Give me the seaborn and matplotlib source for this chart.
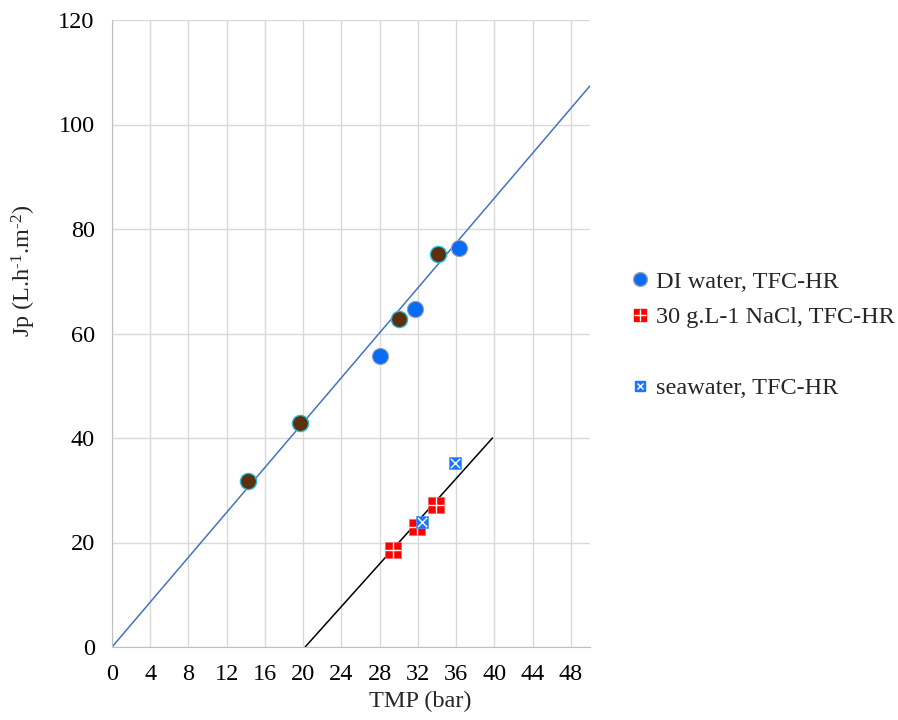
import numpy as np
import pandas as pd
import seaborn as sns
import matplotlib.pyplot as plt
from matplotlib.lines import Line2D
from matplotlib.ticker import MultipleLocator

# Data
di_tmp = [28.05, 31.74, 36.28]
di_jp = [55.7, 64.6, 76.3]
di_fit_tmp = [14.2, 19.65, 29.97, 34.14]
di_fit_jp = [31.8, 42.9, 62.8, 75.2]
nacl_tmp = [29.4, 31.9, 33.85]
nacl_jp = [18.6, 23.0, 27.1]
sea_tmp = [32.4, 35.9]
sea_jp = [23.9, 35.3]
line_di_tmp = [0, 50]
line_di_jp = [0, 107.4]
line_salt_tmp = [20.2, 39.8]
line_salt_jp = [0, 40]

sns.set_style("white")
plt.rcParams['font.family'] = ['Liberation Serif', 'DejaVu Serif']
plt.rcParams['mathtext.fontset'] = 'custom'
plt.rcParams['mathtext.rm'] = 'Liberation Serif'
plt.rcParams['mathtext.it'] = 'Liberation Serif:italic'

fs = 17.5
fig = plt.figure(figsize=(8.98, 7.2), dpi=100)
ax = fig.add_axes([112/898, 1-647/720, 478/898, 627/720])

sns.lineplot(x=line_di_tmp, y=line_di_jp, ax=ax, color='#4472c4', lw=1.1, zorder=2)
sns.lineplot(x=line_salt_tmp, y=line_salt_jp, ax=ax, color='black', lw=1.1, zorder=2)

sns.scatterplot(x=di_tmp, y=di_jp, ax=ax, s=135, color='#0a6cf5', edgecolor='#9aa4b0', linewidth=0.8, zorder=3)
sns.scatterplot(x=di_fit_tmp, y=di_fit_jp, ax=ax, s=135, color='#5c300a', edgecolor='#22b8e0', linewidth=1.0, zorder=3)
sns.scatterplot(x=nacl_tmp, y=nacl_jp, ax=ax, s=125, marker='s', color='#ff0000', edgecolor='#ff6060', linewidth=0.5, zorder=3)
sns.scatterplot(x=nacl_tmp, y=nacl_jp, ax=ax, s=120, marker='+', color='white', linewidth=1.0, zorder=4)
sns.scatterplot(x=sea_tmp, y=sea_jp, ax=ax, s=75, marker='s', color='#1a75ff', edgecolor='#5090ff', linewidth=0.5, zorder=5)
sns.scatterplot(x=sea_tmp, y=sea_jp, ax=ax, s=45, marker='x', color='white', linewidth=1.0, zorder=6)

ax.set_xlim(0, 50)
ax.set_ylim(0, 120)
ax.xaxis.set_major_locator(MultipleLocator(4))
ax.xaxis.set_minor_locator(MultipleLocator(2))
ax.yaxis.set_major_locator(MultipleLocator(20))
ax.yaxis.set_minor_locator(MultipleLocator(5))
ax.grid(True, which='major', color='#d9d9d9', lw=1)
ax.set_axisbelow(True)
for s in ['top', 'right']:
    ax.spines[s].set_visible(False)
for s in ['left', 'bottom']:
    ax.spines[s].set_color('#bfbfbf')
ax.tick_params(which='both', direction='inout', color='#bfbfbf', length=9, width=1)
ax.tick_params(axis='both', labelsize=fs, pad=8, labelcolor='black')

ax.set_xlabel('TMP (bar)', fontsize=fs)
ax.set_ylabel('Jp (L.h$^{\\text{-1}}$.m$^{\\text{-2}}$)', fontsize=fs)
ax.xaxis.set_label_coords(0.644, -0.07)
ax.yaxis.set_label_coords(-0.155, 0.6)

h_di = Line2D([], [], marker='o', ls='', ms=10, color='#0a6cf5', mec='#9aa4b0')
h_nacl = (Line2D([], [], marker='s', ls='', ms=9, color='#ff0000'),
          Line2D([], [], marker='+', ls='', ms=9, color='white', mew=1.0))
h_blank = Line2D([], [], ls='', marker='')
h_sea = (Line2D([], [], marker='s', ls='', ms=7, color='#1a75ff'),
         Line2D([], [], marker='x', ls='', ms=5, color='white', mew=1.0))
fig.legend([h_di, h_nacl, h_blank, h_sea],
           ['DI water, TFC-HR', '30 g.L-1 NaCl, TFC-HR', '', 'seawater, TFC-HR'],
           loc='upper left', bbox_to_anchor=(611/898, 1-249/720), frameon=False,
           fontsize=fs, handlelength=0.6, handletextpad=0.36, labelspacing=0.55)

plt.savefig('out.png', dpi=100)
